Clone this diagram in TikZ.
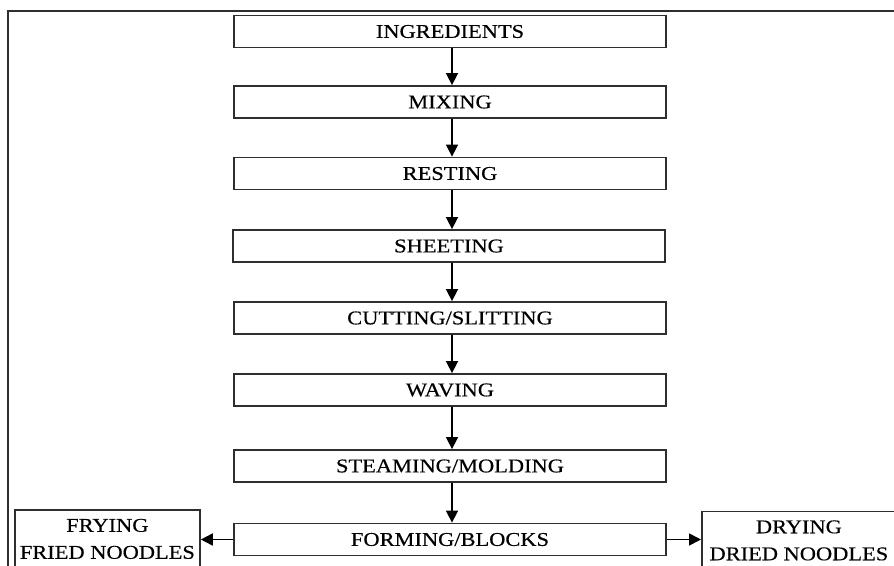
\documentclass[tikz,border=0pt]{standalone}
\usepackage{fontspec}
\usetikzlibrary{arrows.meta}
\newfontfamily\boxfont[FakeStretch=1.15,FakeBold=0.4]{Liberation Serif}
\definecolor{edge}{HTML}{2E2E2E}
\tikzset{
  stage/.style={draw=edge, line width=1.8pt, minimum width=432pt, minimum height=32pt,
    inner sep=0pt, font=\boxfont\fontsize{19.5}{28}\selectfont, text=black},
  sidebox/.style={draw=edge, line width=1.8pt, minimum height=58pt, inner sep=0pt,
    align=center, font=\boxfont\fontsize{19.5}{27}\selectfont, text=black},
  flow/.style={draw=black, line width=1.6pt, -{Triangle[length=12pt,width=12pt]}},
  frame/.style={draw=edge, line width=1.8pt}
}
\begin{document}
\begin{tikzpicture}[x=1pt, y=-1pt]
  \path[use as bounding box, clip] (0,0) rectangle (894,565);
  \fill[white] (0,0) rectangle (894,565);

  % outer frame, open to the right and bottom
  \coordinate (fr-tr) at (900,10.7);
  \coordinate (fr-bl) at (8.3,580);
  \draw[frame] (fr-tr) -| (fr-bl);

  % main process column
  \node[stage] (ing)   at (450,31.5)  {INGREDIENTS};
  \node[stage] (mix)   at (450,102)   {MIXING};
  \node[stage] (rest)  at (450,173.5) {RESTING};
  \node[stage] (sheet) at (449,246)   {SHEETING};
  \node[stage] (cut)   at (450,318)   {CUTTING/SLITTING};
  \node[stage] (wave)  at (450,390)   {WAVING};
  \node[stage] (steam) at (450,466)   {STEAMING/MOLDING};
  \node[stage] (form)  at (450,539.5) {FORMING/BLOCKS};

  % product branches
  \node[sidebox, minimum width=185pt, anchor=north west] (fry) at (14,509)
    {FRYING\\FRIED NOODLES};
  \node[sidebox, minimum width=194pt, anchor=north west] (dry) at (701,510.5)
    {DRYING\\DRIED NOODLES};

  % connectors: one vertical axis for the whole column
  \coordinate (axis) at (452,0);
  \foreach \a/\b in {ing/mix, mix/rest, rest/sheet, sheet/cut, cut/wave, wave/steam, steam/form}
    \draw[flow] (\a.south -| axis) -- (\b.north -| axis);
  \draw[flow] (form.west) -- (fry.east |- form.west);
  \draw[flow] (form.east) -- (dry.west |- form.east);
\end{tikzpicture}
\end{document}
